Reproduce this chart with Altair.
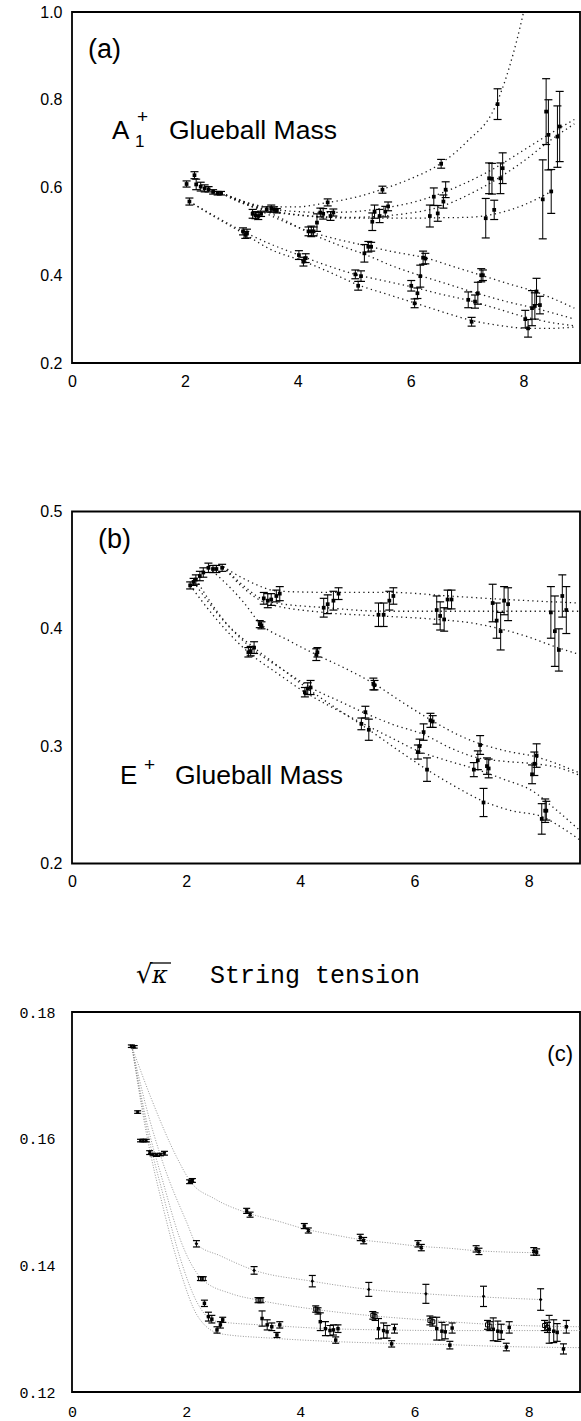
import json
import altair as alt
import pandas as pd

# ---------------- Panel (a): A1+ glueball mass ----------------
a_x = [2.03, 2.08, 2.17, 2.2, 2.28, 2.35, 2.42, 2.5, 2.58, 2.64,
       3.03, 3.07, 3.1, 3.2, 3.25, 3.3, 3.35, 3.45, 3.53, 3.58, 3.63,
       4.02, 4.1, 4.14, 4.19, 4.24, 4.28, 4.34, 4.4, 4.45, 4.53, 4.58, 4.63,
       5.02, 5.07, 5.12, 5.18, 5.25, 5.3, 5.32, 5.36, 5.45, 5.5, 5.55, 5.6,
       6.01, 6.07, 6.12, 6.17, 6.22, 6.26, 6.34, 6.41, 6.48, 6.54, 6.58, 6.62,
       7.02, 7.08, 7.14, 7.19, 7.25, 7.28, 7.33, 7.39, 7.44, 7.48, 7.54, 7.59, 7.63,
       8.03, 8.08, 8.15, 8.2, 8.23, 8.29, 8.34, 8.4, 8.44, 8.49, 8.6, 8.64]
a_y = [0.608, 0.568, 0.628, 0.607, 0.602, 0.598, 0.596, 0.590, 0.587, 0.587,
       0.500, 0.492, 0.495, 0.540, 0.537, 0.535, 0.540, 0.550, 0.552, 0.550, 0.547,
       0.446, 0.431, 0.439, 0.500, 0.500, 0.500, 0.520, 0.543, 0.540, 0.566, 0.535, 0.543,
       0.402, 0.376, 0.398, 0.450, 0.465, 0.465, 0.522, 0.545, 0.535, 0.595, 0.545, 0.557,
       0.376, 0.336, 0.359, 0.398, 0.440, 0.438, 0.535, 0.579, 0.541, 0.654, 0.568, 0.595,
       0.344, 0.294, 0.340, 0.359, 0.400, 0.400, 0.530, 0.621, 0.620, 0.549, 0.790, 0.621, 0.644,
       0.300, 0.279, 0.325, 0.330, 0.363, 0.332, 0.573, 0.773, 0.720, 0.591, 0.716, 0.739]
a_err = [0.007, 0.008, 0.008, 0.012, 0.010, 0.008, 0.006, 0.005, 0.004, 0.004,
         0.008, 0.008, 0.010, 0.010, 0.008, 0.008, 0.006, 0.006, 0.008, 0.006, 0.005,
         0.010, 0.010, 0.010, 0.010, 0.012, 0.010, 0.020, 0.010, 0.012, 0.008, 0.010, 0.008,
         0.010, 0.010, 0.012, 0.020, 0.012, 0.010, 0.020, 0.015, 0.015, 0.008, 0.012, 0.010,
         0.012, 0.010, 0.012, 0.025, 0.015, 0.012, 0.025, 0.020, 0.018, 0.010, 0.015, 0.018,
         0.018, 0.010, 0.015, 0.025, 0.015, 0.012, 0.045, 0.035, 0.035, 0.022, 0.035, 0.035, 0.035,
         0.020, 0.020, 0.040, 0.030, 0.030, 0.020, 0.090, 0.075, 0.080, 0.050, 0.070, 0.080]

a_curve1 = [(2.65, 0.587), (3.0, 0.570), (3.5, 0.556), (4.0, 0.556), (4.5, 0.565), (5.0, 0.577),
            (5.5, 0.596), (6.0, 0.620), (6.5, 0.652), (7.0, 0.705), (7.5, 0.785), (7.75, 0.875),
            (8.0, 1.0), (8.05, 1.03)]
a_curve2 = [(2.65, 0.587), (3.0, 0.568), (3.5, 0.552), (4.0, 0.545), (4.5, 0.543), (5.0, 0.545),
            (5.5, 0.553), (6.0, 0.565), (6.5, 0.585), (7.0, 0.612), (7.5, 0.645), (8.0, 0.685),
            (8.5, 0.725), (8.9, 0.755)]
a_curve3 = [(2.65, 0.587), (3.0, 0.566), (3.5, 0.548), (4.0, 0.538), (4.5, 0.533), (5.0, 0.532),
            (5.5, 0.535), (6.0, 0.542), (6.5, 0.555), (7.0, 0.582), (7.5, 0.617), (8.0, 0.660),
            (8.5, 0.710), (8.9, 0.745)]
a_curve4 = [(2.65, 0.587), (3.0, 0.565), (3.5, 0.546), (4.0, 0.537), (4.5, 0.532), (5.0, 0.530),
            (5.5, 0.530), (6.0, 0.530), (6.5, 0.531), (7.0, 0.532), (7.5, 0.540), (8.0, 0.560),
            (8.3, 0.578), (8.55, 0.595)]
a_curve5 = [(2.65, 0.587), (3.0, 0.568), (3.4, 0.543), (3.8, 0.520), (4.2, 0.500), (4.7, 0.482),
            (5.25, 0.466), (5.75, 0.452), (6.25, 0.440), (6.75, 0.420), (7.25, 0.400), (7.75, 0.380),
            (8.2, 0.363), (8.9, 0.325)]
a_curve6 = [(2.65, 0.587), (3.2, 0.560), (3.7, 0.530), (4.2, 0.497), (4.7, 0.470), (5.2, 0.447),
            (5.7, 0.420), (6.2, 0.398), (6.7, 0.378), (7.2, 0.358), (7.7, 0.340), (8.2, 0.325),
            (8.9, 0.300)]
a_curve7 = [(2.08, 0.568), (2.5, 0.537), (3.03, 0.500), (3.5, 0.472), (4.02, 0.446), (4.5, 0.423),
            (5.02, 0.402), (5.5, 0.388), (6.01, 0.374), (6.5, 0.358), (7.02, 0.343), (7.5, 0.325),
            (8.03, 0.305), (8.5, 0.292), (8.9, 0.285)]
a_curve8 = [(2.08, 0.568), (2.5, 0.535), (3.07, 0.493), (3.5, 0.460), (4.1, 0.432), (4.6, 0.405),
            (5.07, 0.378), (5.6, 0.356), (6.07, 0.337), (6.6, 0.315), (7.08, 0.297), (7.6, 0.285),
            (8.08, 0.279), (8.5, 0.279), (8.9, 0.282)]

# ---------------- Panel (b): E+ glueball mass ----------------
b_x = [2.07, 2.13, 2.17, 2.24, 2.3, 2.39, 2.47, 2.53, 2.63,
       3.09, 3.13, 3.19, 3.29, 3.32, 3.36, 3.43, 3.49, 3.58, 3.64,
       4.08, 4.13, 4.18, 4.28, 4.3, 4.41, 4.48, 4.58, 4.67,
       5.07, 5.14, 5.2, 5.28, 5.3, 5.37, 5.46, 5.56, 5.63,
       6.06, 6.09, 6.16, 6.22, 6.28, 6.32, 6.39, 6.45, 6.52, 6.58, 6.65,
       7.04, 7.11, 7.15, 7.21, 7.27, 7.3, 7.37, 7.44, 7.51, 7.57, 7.64,
       8.06, 8.1, 8.14, 8.23, 8.29, 8.31, 8.39, 8.46, 8.53, 8.59, 8.66]
b_y = [0.437, 0.440, 0.442, 0.445, 0.448, 0.452, 0.451, 0.451, 0.452,
       0.380, 0.381, 0.384, 0.404, 0.403, 0.426, 0.424, 0.425, 0.428, 0.430,
       0.346, 0.349, 0.350, 0.378, 0.380, 0.418, 0.421, 0.424, 0.430,
       0.319, 0.329, 0.314, 0.353, 0.352, 0.412, 0.412, 0.424, 0.428,
       0.295, 0.300, 0.312, 0.280, 0.322, 0.321, 0.416, 0.411, 0.408, 0.425, 0.425,
       0.280, 0.288, 0.301, 0.252, 0.283, 0.281, 0.422, 0.407, 0.398, 0.424, 0.421,
       0.276, 0.285, 0.292, 0.238, 0.245, 0.245, 0.414, 0.398, 0.382, 0.428, 0.416]
b_err = [0.003, 0.003, 0.004, 0.004, 0.004, 0.004, 0.003, 0.003, 0.003,
         0.004, 0.004, 0.005, 0.003, 0.003, 0.005, 0.006, 0.005, 0.005, 0.006,
         0.004, 0.005, 0.006, 0.005, 0.004, 0.008, 0.008, 0.008, 0.005,
         0.005, 0.005, 0.009, 0.005, 0.004, 0.010, 0.010, 0.008, 0.007,
         0.006, 0.006, 0.007, 0.010, 0.006, 0.005, 0.012, 0.012, 0.010, 0.008, 0.008,
         0.006, 0.008, 0.008, 0.012, 0.007, 0.008, 0.016, 0.015, 0.016, 0.012, 0.014,
         0.008, 0.010, 0.010, 0.013, 0.010, 0.008, 0.022, 0.030, 0.018, 0.018, 0.020]

b_curve1 = [(2.65, 0.453), (3.0, 0.443), (3.65, 0.432), (4.65, 0.431), (5.6, 0.431), (6.6, 0.428),
            (7.6, 0.425), (8.9, 0.422)]
b_curve2 = [(2.65, 0.453), (3.0, 0.437), (3.45, 0.423), (4.45, 0.418), (5.45, 0.415), (6.45, 0.415),
            (7.45, 0.415), (8.45, 0.415), (8.9, 0.415)]
b_curve3 = [(2.65, 0.453), (3.0, 0.435), (3.4, 0.422), (4.4, 0.414), (5.4, 0.411), (6.4, 0.408),
            (7.0, 0.405), (7.5, 0.400), (8.0, 0.393), (8.45, 0.385), (8.9, 0.378)]
b_curve4 = [(2.4, 0.452), (3.0, 0.423), (3.29, 0.405), (3.8, 0.390), (4.28, 0.378), (4.8, 0.366),
            (5.3, 0.353), (5.8, 0.337), (6.3, 0.322), (6.75, 0.310), (7.15, 0.302), (7.6, 0.296),
            (8.12, 0.291), (8.9, 0.277)]
b_curve5 = [(2.07, 0.437), (2.5, 0.410), (3.09, 0.380), (3.6, 0.362), (4.08, 0.346), (4.6, 0.332),
            (5.07, 0.320), (5.6, 0.307), (6.06, 0.296), (6.55, 0.288), (7.04, 0.281), (7.55, 0.272),
            (8.06, 0.262), (8.5, 0.245), (8.9, 0.228)]
b_curve6 = [(2.13, 0.440), (2.6, 0.410), (3.16, 0.383), (3.7, 0.365), (4.18, 0.350), (4.7, 0.338),
            (5.14, 0.328), (5.65, 0.318), (6.16, 0.310), (6.65, 0.298), (7.11, 0.290), (7.6, 0.287),
            (8.1, 0.285), (8.5, 0.282), (8.9, 0.275)]
b_curve7 = [(2.17, 0.442), (2.7, 0.405), (3.19, 0.384), (3.7, 0.365), (4.13, 0.349), (4.7, 0.330),
            (5.2, 0.314), (5.7, 0.297), (6.22, 0.280), (6.7, 0.266), (7.21, 0.253), (7.7, 0.245),
            (8.23, 0.240), (8.6, 0.230), (8.9, 0.220)]

# ---------------- Panel (c): sqrt(kappa) string tension ----------------
c0_x = [1.04, 1.09, 1.15, 1.2, 1.25, 1.3, 1.36, 1.42, 1.48, 1.55, 1.62]
c0_y = [0.1746, 0.1745, 0.1642, 0.1597, 0.1597, 0.1597, 0.1578, 0.1575, 0.1574, 0.1575, 0.1577]
c0_err = [0.0002, 0.0002, 0.0002, 0.0002, 0.0002, 0.0002, 0.0003, 0.0002, 0.0002, 0.0002, 0.0003]

c1_x = [2.06, 2.11, 3.06, 3.12, 4.07, 4.14, 5.05, 5.11, 6.06, 6.12, 7.08, 7.13, 8.09, 8.14]
c1_y = [0.1532, 0.1534, 0.1486, 0.1480, 0.1462, 0.1455, 0.1444, 0.1439, 0.1434, 0.1428,
        0.1426, 0.1422, 0.1422, 0.1421]
c1_err = [0.0003, 0.0003, 0.0004, 0.0004, 0.0004, 0.0004, 0.0005, 0.0005, 0.0005, 0.0005,
          0.0005, 0.0005, 0.0006, 0.0005]

c2_x = [2.18, 3.19, 4.21, 5.2, 6.2, 7.21, 8.21]
c2_y = [0.1434, 0.1392, 0.1375, 0.1362, 0.1355, 0.1351, 0.1346]
c2_err = [0.0005, 0.0006, 0.0009, 0.0011, 0.0015, 0.0016, 0.0017]

c3_x = [2.25, 2.3, 3.26, 3.31, 4.27, 4.31, 5.27, 5.31, 6.27, 6.32, 7.28, 7.32, 8.28, 8.33]
c3_y = [0.1379, 0.1379, 0.1345, 0.1345, 0.1331, 0.1328, 0.1321, 0.1319, 0.1313, 0.1311,
        0.1306, 0.1304, 0.1305, 0.1302]
c3_err = [0.0003, 0.0003, 0.0004, 0.0004, 0.0005, 0.0005, 0.0006, 0.0006, 0.0007, 0.0007,
          0.0007, 0.0007, 0.0008, 0.0008]

c4_x = [2.32, 2.39, 2.45, 2.6, 2.64, 3.33, 3.42, 3.5, 3.64, 4.35, 4.44, 4.52, 4.58, 4.66,
        5.37, 5.46, 5.52, 5.65, 6.39, 6.48, 6.54, 6.66, 7.38, 7.46, 7.52, 7.66, 8.36, 8.44, 8.5, 8.66]
c4_y = [0.1340, 0.1319, 0.1315, 0.1306, 0.1314, 0.1316, 0.1306, 0.1303, 0.1306,
        0.1311, 0.1300, 0.1297, 0.1298, 0.1300, 0.1300, 0.1297, 0.1295, 0.1300,
        0.1300, 0.1296, 0.1295, 0.1301, 0.1299, 0.1296, 0.1295, 0.1302,
        0.1299, 0.1296, 0.1294, 0.1303]
c4_err = [0.0005, 0.0007, 0.0006, 0.0005, 0.0004, 0.0012, 0.0008, 0.0006, 0.0005,
          0.0014, 0.0011, 0.0008, 0.0008, 0.0006, 0.0016, 0.0012, 0.0010, 0.0007,
          0.0018, 0.0014, 0.0011, 0.0008, 0.0018, 0.0016, 0.0012, 0.0009,
          0.0022, 0.0018, 0.0014, 0.0010]

c5_x = [2.54, 3.59, 4.62, 5.6, 6.62, 7.61, 8.61]
c5_y = [0.1298, 0.1290, 0.1282, 0.1276, 0.1274, 0.1271, 0.1268]
c5_err = [0.0005, 0.0004, 0.0005, 0.0005, 0.0006, 0.0006, 0.0008]

c_curve1 = [(1.05, 0.1745), (1.39, 0.1663), (1.85, 0.1568), (2.07, 0.1533), (2.5, 0.1505),
            (3.1, 0.1482), (3.6, 0.1470), (4.1, 0.1457), (4.6, 0.1448), (5.1, 0.1440),
            (5.6, 0.1435), (6.1, 0.1430), (6.6, 0.1427), (7.1, 0.1423), (7.6, 0.1421), (8.1, 0.1420)]
c_curve2 = [(1.05, 0.1745), (1.3, 0.1650), (1.6, 0.1560), (2.0, 0.1470), (2.18, 0.1434),
            (2.6, 0.1415), (3.2, 0.1392), (4.2, 0.1375), (5.2, 0.1362), (6.2, 0.1355),
            (7.2, 0.1350), (8.2, 0.1346)]
c_curve3 = [(1.05, 0.1745), (1.3, 0.1630), (1.6, 0.1530), (1.9, 0.1440), (2.27, 0.1379),
            (2.8, 0.1355), (3.27, 0.1345), (4.3, 0.1330), (5.3, 0.1320), (6.3, 0.1313),
            (7.3, 0.1307), (8.9, 0.1303)]
c_curve4 = [(1.05, 0.1745), (1.3, 0.1620), (1.6, 0.1510), (1.9, 0.1410), (2.2, 0.1340),
            (2.5, 0.1312), (3.5, 0.1305), (4.5, 0.1300), (5.5, 0.1298), (6.5, 0.1297),
            (7.5, 0.1297), (8.9, 0.1297)]
c_curve5 = [(1.05, 0.1745), (1.3, 0.1610), (1.6, 0.1490), (1.9, 0.1390), (2.2, 0.1320),
            (2.6, 0.1292), (3.5, 0.1285), (4.5, 0.1280), (5.5, 0.1277), (6.5, 0.1275),
            (7.5, 0.1272), (8.9, 0.1270)]

# axis tick values
a_xticks = [0, 2, 4, 6, 8]
a_yticks = [0.2, 0.4, 0.6, 0.8, 1.0]
b_yticks = [0.2, 0.3, 0.4, 0.5]
c_yticks = [0.12, 0.14, 0.16, 0.18]

SANS = "Liberation Sans"
MONO = "Liberation Mono"
W = 508


def curves_df(curves):
    rows = []
    for i, c in enumerate(curves):
        for x, y in c:
            rows.append({"x": x, "y": y, "c": f"c{i}"})
    return pd.DataFrame(rows)


def pts_df(xs, ys, es):
    return pd.DataFrame({"x": xs, "y": ys,
                         "lo": [y - e for y, e in zip(ys, es)],
                         "hi": [y + e for y, e in zip(ys, es)]})


def panel(h, xdom, ydom, xmaj, ymaj, font, fs, ypad, xpad, yfmt,
          series, curves, line_style, texts, extra=(), cap=8):
    sx = alt.Scale(domain=xdom, nice=False, zero=False)
    sy = alt.Scale(domain=ydom, nice=False, zero=False)
    xaxis = alt.Axis(values=xmaj, ticks=False, domain=False, grid=False, format="d",
                     labelFont=font, labelFontSize=fs, labelPadding=xpad, labelColor="black",
                     labelFlush=False, labelOverlap=False)
    yaxis = alt.Axis(values=ymaj, ticks=False, domain=False, grid=False, format=yfmt,
                     labelFont=font, labelFontSize=fs, labelPadding=ypad, labelColor="black",
                     labelFlush=False, labelOverlap=False)
    X = lambda f: alt.X(f, scale=sx, axis=xaxis, title="")
    Y = lambda f: alt.Y(f, scale=sy, axis=yaxis, title="")

    layers = []
    # dotted curves
    layers.append(alt.Chart(curves_df(curves)).mark_line(clip=True, interpolate="monotone", **line_style)
                  .encode(x=X("x:Q"), y=Y("y:Q"), detail="c:N", order="x:Q"))
    # data with error bars
    for (xs, ys, es, shape, filled, size, angle) in series:
        d = pts_df(xs, ys, es)
        layers.append(alt.Chart(d).mark_rule(color="black", strokeWidth=1)
                      .encode(x=X("x:Q"), y=Y("lo:Q"), y2="hi:Q"))
        for f in ("lo:Q", "hi:Q"):
            layers.append(alt.Chart(d).mark_tick(orient="horizontal", size=cap, thickness=1.2,
                                                 color="black", opacity=1)
                          .encode(x=X("x:Q"), y=Y(f)))
        layers.append(alt.Chart(d).mark_point(shape=shape, filled=filled, size=size, angle=angle,
                                              color="black", opacity=1, strokeWidth=1)
                      .encode(x=X("x:Q"), y=Y("y:Q")))
    # annotations
    for (t, px, py, tfont, tsize, align, baseline, style) in texts:
        layers.append(alt.Chart(pd.DataFrame({"t": [t]}))
                      .mark_text(font=tfont, fontSize=tsize, align=align, baseline=baseline,
                                 color="black", fontStyle=style)
                      .encode(text="t:N", x=alt.value(px), y=alt.value(py)))
    layers.extend(extra)
    return alt.layer(*layers).properties(width=W, height=h)


dark_dots = dict(color="#1a1a1a", strokeWidth=1.3, strokeDash=[1.3, 3.4])
light_dots = dict(color="#8c8c8c", strokeWidth=0.9, strokeDash=[1, 1.6])

pa = panel(
    351, [0, 9], [0.2, 1.0], a_xticks, a_yticks, SANS, 16, 10, 10, ".1f",
    [(a_x, a_y, a_err, "square", True, 14, 0)],
    [a_curve1, a_curve2, a_curve3, a_curve4, a_curve5, a_curve6, a_curve7, a_curve8],
    dark_dots,
    [("(a)", 16, 38, SANS, 27, "left", "middle", "normal"),
     ("A", 40, 127, SANS, 26, "left", "alphabetic", "normal"),
     ("1", 63, 135, SANS, 17, "left", "alphabetic", "normal"),
     ("+", 65, 111, SANS, 19, "left", "alphabetic", "normal"),
     ("Glueball Mass", 97, 127, SANS, 26.5, "left", "alphabetic", "normal")],
)

pb = panel(
    352, [0, 8.9], [0.2, 0.5], a_xticks, b_yticks, SANS, 16, 10, 10, ".1f",
    [(b_x, b_y, b_err, "square", True, 14, 0)],
    [b_curve1, b_curve2, b_curve3, b_curve4, b_curve5, b_curve6, b_curve7],
    dark_dots,
    [("(b)", 26, 28, SANS, 27, "left", "middle", "normal"),
     ("E", 48, 272, SANS, 26, "left", "alphabetic", "normal"),
     ("+", 72, 259, SANS, 19, "left", "alphabetic", "normal"),
     ("Glueball Mass", 103, 272, SANS, 26.5, "left", "alphabetic", "normal")],
)

# radical bar over kappa
bar = alt.Chart(pd.DataFrame({"k": [0]})).mark_rule(color="black", strokeWidth=1.3).encode(
    x=alt.value(78), x2=alt.value(99), y=alt.value(-49))

pc = panel(
    380, [0, 8.9], [0.12, 0.18], a_xticks, c_yticks, MONO, 15, 17, 12, ".2f",
    [(c0_x, c0_y, c0_err, "cross", True, 14, 45),
     (c1_x, c1_y, c1_err, "cross", True, 18, 45),
     (c2_x, c2_y, c2_err, "diamond", True, 14, 0),
     (c3_x, c3_y, c3_err, "square", False, 16, 0),
     (c4_x, c4_y, c4_err, "square", True, 12, 0),
     (c5_x, c5_y, c5_err, "square", True, 12, 0)],
    [c_curve1, c_curve2, c_curve3, c_curve4, c_curve5],
    light_dots,
    [("(c)", 501, 42, SANS, 22, "right", "middle", "normal"),
     ("\u221a", 64, -29, "DejaVu Sans", 26, "left", "alphabetic", "normal"),
     ("\u03ba", 80, -29, "DejaVu Serif", 24, "left", "alphabetic", "italic"),
     ("String tension", 138, -29, MONO, 25, "left", "alphabetic", "normal")],
    extra=[bar], cap=7,
)

chart = alt.vconcat(pa, pb, pc, spacing=148.5, bounds="flush").properties(
    padding={"left": 18, "top": 3, "right": 0, "bottom": 0},
    background="white",
).configure_view(stroke="black", strokeWidth=1.8)

chart.save("out.html", embed_options={"renderer": "svg", "actions": False})
